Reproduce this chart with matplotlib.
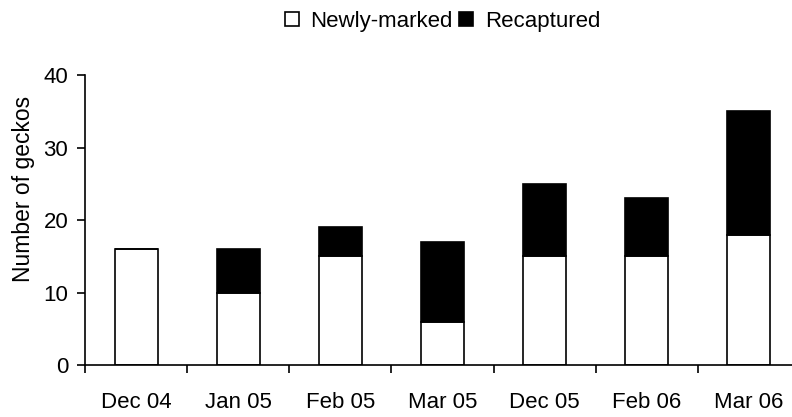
import matplotlib.pyplot as plt
import numpy as np
from matplotlib.lines import Line2D

plt.rcParams['font.family'] = ['Liberation Sans', 'DejaVu Sans']

months = ["Dec 04", "Jan 05", "Feb 05", "Mar 05", "Dec 05", "Feb 06", "Mar 06"]
newly_marked = [16, 10, 15, 6, 15, 15, 18]
recaptured = [0, 6, 4, 11, 10, 8, 17]

fig = plt.figure(figsize=(7.92, 4.17), dpi=100)
ax = fig.add_axes([0.1073, 0.1247, 0.9028, 0.6953])

x = np.arange(len(months))
ax.bar(x, newly_marked, width=0.42, color="white", edgecolor="black", linewidth=1.2)
ax.bar(x, recaptured, width=0.42, bottom=newly_marked, color="black",
       edgecolor="black", linewidth=1.2)

ax.set_xlim(-0.5, len(months) - 0.5)
ax.set_ylim(0, 40)
ax.set_yticks([0, 10, 20, 30, 40])

# ticks at category boundaries, labels at centres
ax.set_xticks(np.arange(-0.5, len(months), 1.0))
ax.set_xticklabels([])
ax.set_xticks(x, minor=True)
ax.set_xticklabels(months, minor=True)
ax.tick_params(axis="x", which="major", direction="out", length=6, width=1.2)
ax.tick_params(axis="x", which="minor", length=0, pad=19.5, labelsize=16)
ax.tick_params(axis="y", direction="out", length=6, width=1.2, pad=6, labelsize=16)

for s in ["top", "right"]:
    ax.spines[s].set_visible(False)
ax.spines["left"].set_linewidth(1.2)
ax.spines["bottom"].set_linewidth(1.2)

ax.set_ylabel("Number of geckos", fontsize=16.5)
ax.yaxis.set_label_coords(-0.070, 0.607)

handles = [
    Line2D([], [], marker="s", linestyle="none", markersize=9.5,
           markerfacecolor="white", markeredgecolor="black", markeredgewidth=1.2),
    Line2D([], [], marker="s", linestyle="none", markersize=9.5,
           markerfacecolor="black", markeredgecolor="black", markeredgewidth=1.2),
]
fig.legend(handles, ["Newly-marked", "Recaptured"], loc="center",
           bbox_to_anchor=(0.559, 0.948), ncol=2, frameon=False, fontsize=16,
           handlelength=0.6, handletextpad=0.53, columnspacing=0.3)

fig.savefig("out.png", dpi=100)
